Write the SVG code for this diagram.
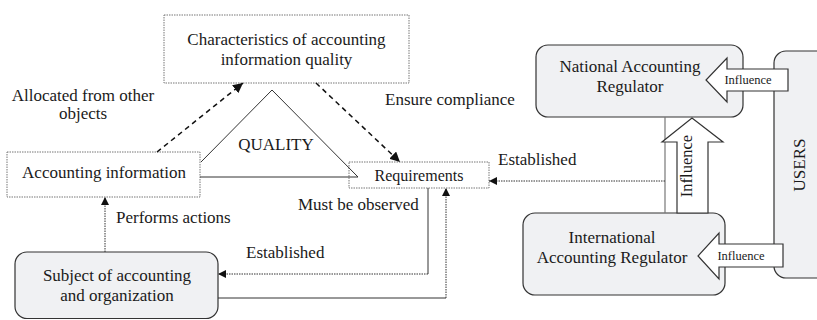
<svg xmlns="http://www.w3.org/2000/svg" width="817" height="320" viewBox="0 0 817 320" font-family="'Liberation Serif', 'DejaVu Serif', serif">
<style>
text{font-family:'Liberation Serif','DejaVu Serif',serif;fill:#1a1a1a}
.t{font-size:17px}
.m{font-size:16px}
.s{font-size:12.5px}
.dbox{fill:#fff;stroke:#777;stroke-width:1;stroke-dasharray:1.5,1}
.rbox{fill:#f0f1f3;stroke:#333;stroke-width:1.2}
.big{fill:#fff;stroke:#333;stroke-width:1.2;stroke-linejoin:miter}
.dash{fill:none;stroke:#111;stroke-width:1.5;stroke-dasharray:5,4}
.dot{fill:none;stroke:#333;stroke-width:1;stroke-dasharray:1.5,1}
.sol{fill:none;stroke:#333;stroke-width:1}
.gl{fill:none;stroke:#777;stroke-width:1.2}
</style>
<defs>
<marker id="ah" viewBox="0 0 10 10" refX="10" refY="5" markerWidth="8" markerHeight="8" markerUnits="userSpaceOnUse" orient="auto"><path d="M0,0 L10,5 L0,10 z" fill="#111"/></marker>
<marker id="ahb" viewBox="0 0 10 10" refX="10" refY="5" markerWidth="10" markerHeight="10" markerUnits="userSpaceOnUse" orient="auto"><path d="M0,0 L10,5 L0,10 z" fill="#111"/></marker>
</defs>

<g id="users">
<rect x="774" y="51" width="70" height="227" rx="12" class="rbox"/>
<text class="t" transform="translate(805,165) rotate(-90)" text-anchor="middle">USERS</text>
</g>

<g id="characteristics">
<rect x="164" y="15" width="245" height="68" class="dbox"/>
<text class="t" x="286.5" y="45" text-anchor="middle">Characteristics of accounting</text>
<text class="t" x="286.5" y="65" text-anchor="middle">information quality</text>
</g>

<g id="accounting-information">
<rect x="7" y="152" width="193" height="45" class="dbox"/>
<text class="t" x="104" y="178" text-anchor="middle">Accounting information</text>
</g>

<g id="requirements">
<rect x="349" y="162" width="140" height="26" class="dbox"/>
<text class="m" x="419" y="181" text-anchor="middle">Requirements</text>
</g>

<g id="subject">
<rect x="15" y="252" width="203" height="66.5" rx="12" class="rbox"/>
<text class="t" x="117" y="281" text-anchor="middle">Subject of accounting</text>
<text class="t" x="117" y="301" text-anchor="middle">and organization</text>
</g>

<g id="national-regulator">
<rect x="536" y="45" width="207" height="72" rx="12" class="rbox"/>
<text class="t" x="630" y="72" text-anchor="middle">National Accounting</text>
<text class="t" x="630" y="92" text-anchor="middle">Regulator</text>
</g>

<g id="international-regulator">
<rect x="523" y="213" width="202" height="82" rx="12" class="rbox"/>
<text class="t" x="612" y="243" text-anchor="middle">International</text>
<text class="t" x="612" y="263" text-anchor="middle">Accounting Regulator</text>
</g>

<g id="connectors">
<polyline points="201,162 272,90 358,177" class="sol"/>
<line x1="200" y1="177" x2="358" y2="177" class="sol" stroke-width="1.3"/>
<text class="t" x="276" y="150" text-anchor="middle">QUALITY</text>

<line x1="157" y1="152" x2="243" y2="83" class="dash" marker-end="url(#ahb)"/>
<line x1="316" y1="83" x2="400" y2="162" class="dash" marker-end="url(#ahb)"/>
<text class="t" x="83" y="101" text-anchor="middle">Allocated from other</text>
<text class="t" x="83" y="119" text-anchor="middle">objects</text>
<text class="t" x="385" y="105">Ensure compliance</text>

<line x1="105" y1="252" x2="105" y2="197" class="dot" marker-end="url(#ah)"/>
<text class="t" x="116" y="223">Performs actions</text>

<polyline points="428,188 428,274" class="sol"/>
<polyline points="428,274 218,274" class="dot" marker-end="url(#ah)"/>
<text class="t" x="246" y="258">Established</text>

<line x1="218" y1="298" x2="446" y2="298" class="sol"/>
<line x1="446" y1="298" x2="446" y2="188" class="dot" marker-end="url(#ah)"/>
<text class="t" x="298" y="210">Must be observed</text>

<line x1="665" y1="117" x2="665" y2="213" class="gl"/>
<line x1="665" y1="181" x2="489" y2="181" class="dot" marker-end="url(#ah)"/>
<text class="t" x="498" y="165">Established</text>

<polygon points="708,213 708,142 723,142 692,118 662,142 677,142 677,213" class="big"/>
<text class="t" transform="translate(692,166) rotate(-90)" text-anchor="middle" style="font-size:16.5px">Influence</text>

<polygon points="788,69 727,69 727,58 706,80 727,102 727,91 788,91" class="big"/>
<text class="s" x="748" y="84" text-anchor="middle">Influence</text>

<polygon points="783,244 719,244 719,233 698,256 719,279 719,267 783,267" class="big"/>
<text class="s" x="741" y="260" text-anchor="middle">Influence</text>
</g>
</svg>
